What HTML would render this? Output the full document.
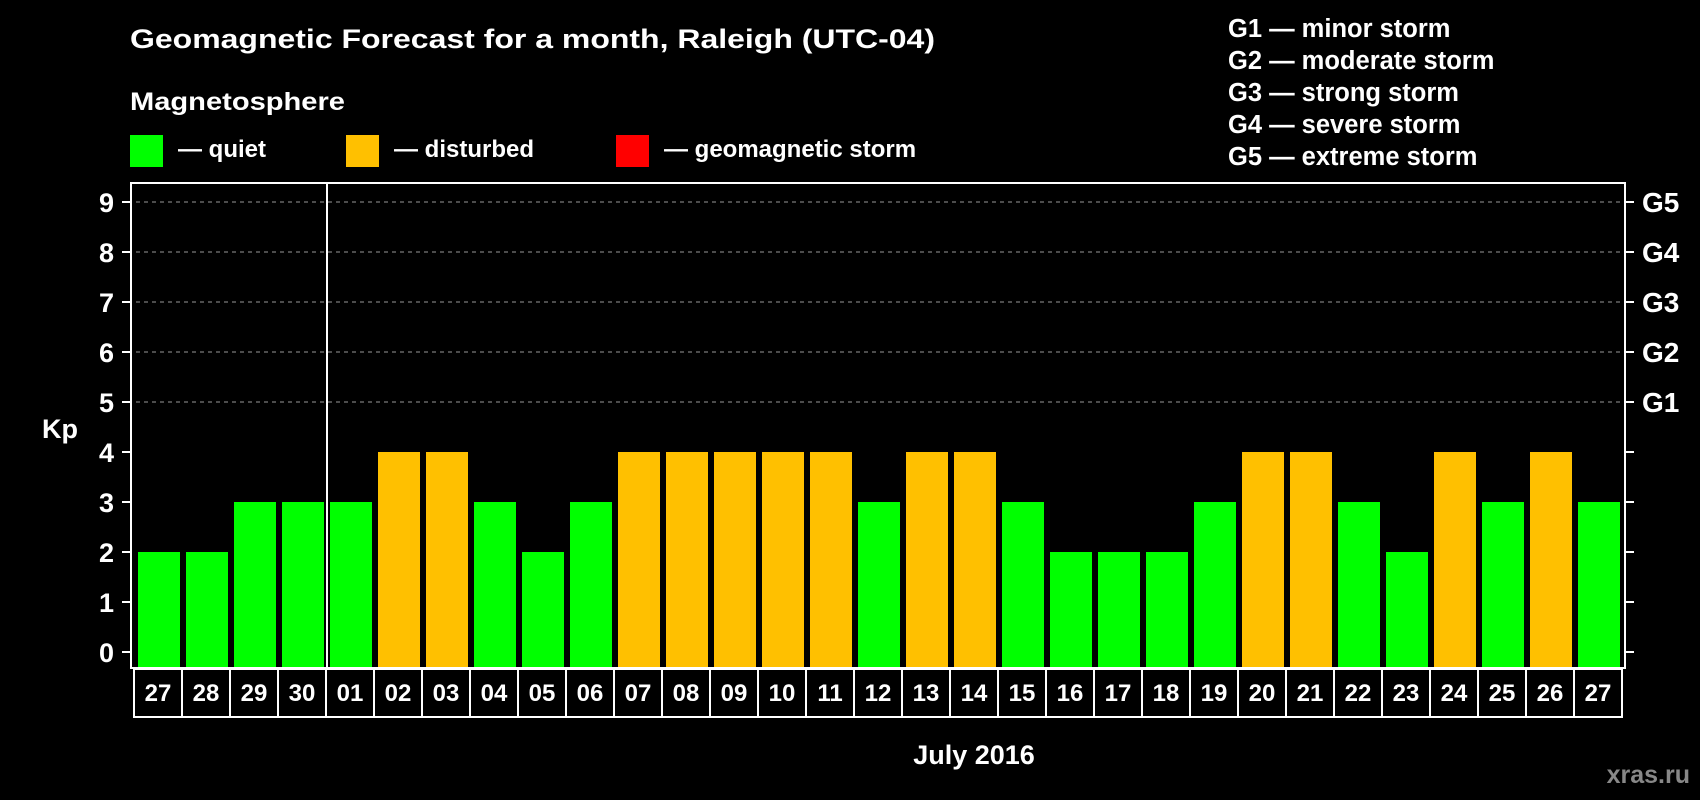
<!DOCTYPE html>
<html><head><meta charset="utf-8"><style>
html,body{margin:0;padding:0;background:#000;}
svg{display:block;font-family:"Liberation Sans",sans-serif;font-weight:bold;}
</style></head><body>
<svg id="chart" width="1700" height="800" viewBox="0 0 1700 800">
<rect x="0" y="0" width="1700" height="800" fill="#000"/>
<text x="130" y="48" fill="#fff" font-size="27" textLength="805" lengthAdjust="spacingAndGlyphs">Geomagnetic Forecast for a month, Raleigh (UTC-04)</text>
<text x="130" y="110" fill="#fff" font-size="25" textLength="215" lengthAdjust="spacingAndGlyphs">Magnetosphere</text>
<g>
<rect x="130" y="135" width="33" height="32" fill="#00ff00"/>
<text x="178" y="157" fill="#fff" font-size="24">— quiet</text></g>
<g>
<rect x="346" y="135" width="33" height="32" fill="#ffc000"/>
<text x="394" y="157" fill="#fff" font-size="24">— disturbed</text></g>
<g>
<rect x="616" y="135" width="33" height="32" fill="#ff0000"/>
<text x="664" y="157" fill="#fff" font-size="24">— geomagnetic storm</text></g>
<g fill="#fff" font-size="25.5">
<text x="1228" y="37">G1 — minor storm</text>
<text x="1228" y="69">G2 — moderate storm</text>
<text x="1228" y="101">G3 — strong storm</text>
<text x="1228" y="133">G4 — severe storm</text>
<text x="1228" y="165">G5 — extreme storm</text>
</g>
<text x="42" y="438" fill="#fff" font-size="27">Kp</text>
<text x="974" y="764" fill="#fff" font-size="27" text-anchor="middle">July 2016</text>
<text x="1690" y="783" fill="#888" font-size="25" text-anchor="end">xras.ru</text>
<g id="grid"></g>
<g id="bars"></g>
<g id="axes"></g>
</svg>
<script>
const days = ["27","28","29","30","01","02","03","04","05","06","07","08","09","10","11","12","13","14","15","16","17","18","19","20","21","22","23","24","25","26","27"];
const kpValues = [2,2,3,3,3,4,4,3,2,3,4,4,4,4,4,3,4,4,3,2,2,2,3,4,4,3,2,4,3,4,3];
const yTicks = [0,1,2,3,4,5,6,7,8,9];
const gLabels = ["G1","G2","G3","G4","G5"];
const gLevels = [5,6,7,8,9];
const monthBoundaryIndex = 4;

const NS = "http://www.w3.org/2000/svg";
const L = 131, R = 1625, T = 183, B = 668;
const y = v => 652 - v * 50;
const x0 = 134, pitch = 48;
const xBand = i => x0 + i * pitch;
function mk(tag, attrs, parent) {
  const e = document.createElementNS(NS, tag);
  for (const k in attrs) e.setAttribute(k, attrs[k]);
  parent.appendChild(e);
  return e;
}
const grid = document.getElementById("grid");
const bars = document.getElementById("bars");
const axes = document.getElementById("axes");

yTicks.forEach(v => {
  if (v >= 5) {
    const g = mk("line", {x1: L + 5, x2: R, y1: y(v), y2: y(v), stroke: "#999", "stroke-width": 1, "stroke-dasharray": "4,4"}, grid);
    
    
  }
  const t = mk("line", {x1: L - 9, x2: L, y1: y(v), y2: y(v), stroke: "#fff", "stroke-width": 2}, axes);
  
  
  const t2 = mk("line", {x1: R, x2: R + 9, y1: y(v), y2: y(v), stroke: "#fff", "stroke-width": 2}, axes);
  
  
  const lb = mk("text", {x: 114, y: y(v) + 10, fill: "#fff", "font-size": 27, "text-anchor": "end"}, axes);
  lb.textContent = v;
  
  
});
gLabels.forEach((g, i) => {
  const t = mk("text", {x: 1642, y: y(gLevels[i]) + 10, fill: "#fff", "font-size": 28}, axes);
  t.textContent = g;
  
  
});
kpValues.forEach((v, i) => {
  const col = v >= 5 ? "#ff0000" : (v >= 4 ? "#ffc000" : "#00ff00");
  const b = mk("rect", {x: xBand(i) + 4, y: y(v), width: 42, height: B - y(v), fill: col}, bars);
  
  
  const bx = mk("rect", {x: xBand(i), y: B + 1, width: pitch, height: 48, fill: "none", stroke: "#fff", "stroke-width": 2}, axes);
  
  
  const tx = mk("text", {x: xBand(i) + pitch / 2, y: B + 33, fill: "#fff", "font-size": 24, "text-anchor": "middle"}, axes);
  tx.textContent = days[i];
  
  
});
const fr = mk("rect", {x: L, y: T, width: R - L, height: B - T, fill: "none", stroke: "#fff", "stroke-width": 2}, axes);


const sep = mk("line", {x1: xBand(monthBoundaryIndex) + 1, x2: xBand(monthBoundaryIndex) + 1, y1: T, y2: B, stroke: "#fff", "stroke-width": 2}, axes);


</script>
</body></html>
